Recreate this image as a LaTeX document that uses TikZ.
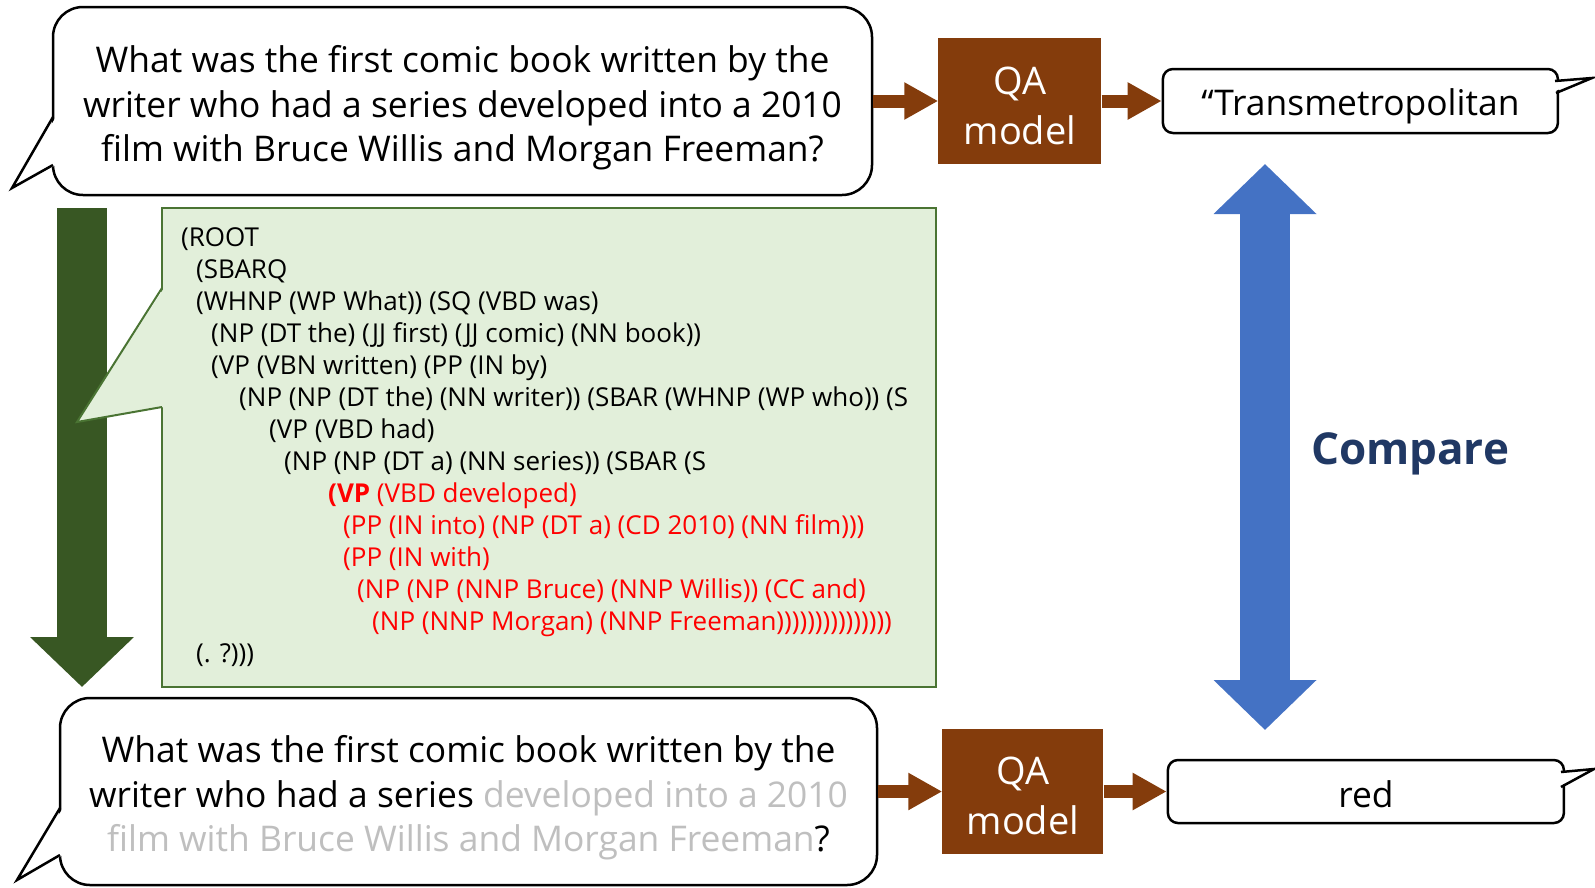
\documentclass[tikz,border=0pt]{standalone}
\usepackage{fontspec}
\setmainfont{Open Sans}
\usetikzlibrary{
  arrows.meta,
  calc,
  positioning,
}
\definecolor{qabrown}{HTML}{843C0C}
\definecolor{treegreen}{HTML}{385723}
\definecolor{parsefill}{HTML}{E2EFDA}
\definecolor{parseedge}{HTML}{4A7433}
\definecolor{cmpblue}{HTML}{4472C4}
\definecolor{cmpnavy}{HTML}{203864}
\definecolor{faded}{HTML}{BFBFBF}
\newcommand{\lift}[1]{\rule{0pt}{#1}}
\tikzset{
  bubble/.style={draw,line width=2.5pt,rounded corners=30pt,fill=white,align=center,
    font=\fontsize{35.4}{44.5}\selectfont},
  qabox/.style={fill=qabrown,text=white,align=center,inner sep=0pt,
    minimum width=163pt,minimum height=126pt,font=\fontsize{38}{50}\selectfont},
  answer/.style={draw,line width=2.5pt,rounded corners=10pt,fill=white,
    minimum width=395pt,minimum height=64pt,font=\fontsize{35.4}{44.5}\selectfont},
  flow/.style={qabrown,line width=13pt,-{Triangle[length=34pt,width=35pt]}},
  parseline/.style={anchor=base west,inner sep=0pt,font=\fontsize{26}{32}\selectfont},
}

\begin{document}
\begin{tikzpicture}[x=1pt,y=-1pt,node distance=0pt and 0pt]
        \useasboundingbox (0,0) rectangle (1595,887);

        % reduction arrow and parse tree
        \coordinate (gtop) at (82,208);
        \coordinate (gbot) at (82,687);
        \draw[treegreen,line width=50pt,-{Triangle[length=50pt,width=101pt]}] (gtop) -- (gbot);

        \node[draw=parseedge,fill=parsefill,line width=2pt,minimum width=774pt,minimum height=479pt] (parse) at (549,447.5) {};
        \fill[parsefill] (164,288) -- (77,422) -- (164,407) -- cycle;
        \draw[parseedge,line width=2pt] (162,288) -- (77,422) -- (162,407);

        \foreach \ind/\col/\txt [count=\k] in {
            0/black/{(ROOT},
            15/black/{(SBARQ},
            15/black/{(WHNP (WP What)) (SQ (VBD was)},
            30/black/{(NP (DT the) (JJ first) (JJ comic) (NN book))},
            30/black/{(VP (VBN written) (PP (IN by)},
            58/black/{(NP (NP (DT the) (NN writer)) (SBAR (WHNP (WP who)) (S},
            88/black/{(VP (VBD had)},
            103/black/{(NP (NP (DT a) (NN series)) (SBAR (S},
            147/red/{\textbf{(VP} (VBD developed)},
            162/red/{(PP (IN into) (NP (DT a) (CD 2010) (NN film)))},
            162/red/{(PP (IN with)},
            176/red/{(NP (NP (NNP Bruce) (NNP Willis)) (CC and)},
            191/red/{(NP (NNP Morgan) (NNP Freeman)))))))))))))))},
            15/black/{(. ?)))}}
          \node[parseline,text=\col] (p\k) at (181+\ind,246+32*\k-32) {\txt};

        % original question
        \node[bubble,minimum width=819pt,minimum height=188pt] (q1) at (462.5,101)
          {\lift{41pt}What was the first comic book written by the\\writer who had a series developed into a 2010\\film with Bruce Willis and Morgan Freeman?};
        \fill[white] (56,117) -- (12,188) -- (56,165) -- cycle;
        \draw[line width=2.5pt] (53,117) -- (12,188) -- (53,165);

        \node[qabox] (qa1) [right=65pt of q1] {\lift{37pt}QA\\model};
        \node[answer] (a1) [right=60pt of qa1] {\lift{37pt}\textquotedblleft Transmetropolitan};
        \fill[white] (1552,81) -- (1592,78) -- (1552,92) -- cycle;
        \draw[line width=2.5pt] (1555,81) -- (1592,78) -- (1556,93);

        \draw[flow] (q1.east) -- (qa1.west);
        \draw[flow] (qa1.east) -- (a1.west);

        % reduced question
        \node[bubble,minimum width=817pt,minimum height=187pt] (q2) at (468.5,791.5)
          {\lift{40pt}What was the first comic book written by the\\writer who had a series \textcolor{faded}{developed into a 2010}\\\textcolor{faded}{film with Bruce Willis and Morgan Freeman}?};
        \fill[white] (63,808) -- (17,880) -- (63,855) -- cycle;
        \draw[line width=2.5pt] (60,808) -- (17,880) -- (60,855);

        \node[qabox,minimum width=161pt,minimum height=125pt] (qa2) [right=64pt of q2] {\lift{37pt}QA\\model};
        \node[answer,minimum width=396pt,minimum height=63pt] (a2) [right=63pt of qa2] {\lift{32pt}red};
        \fill[white] (1558,772) -- (1594,769) -- (1558,787) -- cycle;
        \draw[line width=2.5pt] (1561,772) -- (1594,769) -- (1561,787);

        \draw[flow] (q2.east) -- (qa2.west);
        \draw[flow] (qa2.east) -- (a2.west);

        % comparison
        \coordinate (ctop) at (1265,164);
        \coordinate (cbot) at (1265,730);
        \draw[cmpblue,line width=50pt,{Triangle[length=50pt,width=100pt]}-{Triangle[length=50pt,width=100pt]}] (ctop) -- (cbot);
        \node[text=cmpnavy,font=\bfseries\fontsize{44}{50}\selectfont] (cmp) at (1410,454) {Compare};

      \end{tikzpicture}
\end{document}
